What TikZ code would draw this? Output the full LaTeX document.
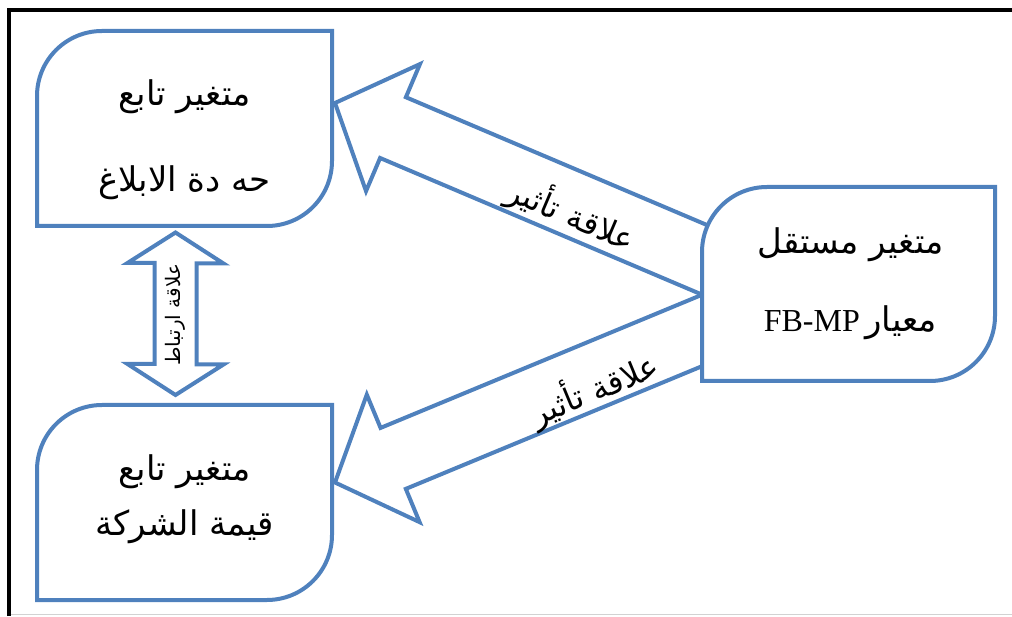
\documentclass[tikz,border=0pt]{standalone}
\usepackage{fontspec}
\setmainfont{Liberation Serif}
\newfontfamily\latinfont{Liberation Serif}
\newfontfamily\arabicfont[Script=Arabic]{DejaVu Sans}
\TeXXeTstate=1
\usetikzlibrary{positioning}

\definecolor{boxblue}{RGB}{79,129,189}

\newcommand{\artext}[1]{{\arabicfont\beginR #1\endR}}
\newcommand{\boxfont}{\arabicfont\fontsize{17}{21}\selectfont}
\newcommand{\diagbox}[1]{%
  \draw[blockline] (#1.north east) -- ([yshift=32.5pt]#1.south east)
    arc[start angle=0, end angle=-90, radius=32.5pt] -- (#1.south west)
    -- ([yshift=-32.5pt]#1.north west)
    arc[start angle=180, end angle=90, radius=32.5pt] -- cycle;}
\newcommand{\blockarrow}[3]{%
  \draw[blockline, shift={(#1)}, rotate=#2]
    (0,0) -- (63,69) -- (63,33) -- (#3,33) -- (#3,-33) -- (63,-33) -- (63,-69) -- cycle;}

\begin{document}
\begin{tikzpicture}[
    x = 0.5pt,
    y = 0.5pt,
    varbox/.style = {minimum width=147.5pt, minimum height=97.5pt, inner sep=0pt, outer sep=0pt},
    vartext/.style = {align=center, font=\boxfont, inner sep=0pt},
    ]

    \tikzstyle{blockline}=[
    draw = boxblue,
    line width = 2pt,
    fill = white,
    ]

    \useasboundingbox (0,0) rectangle (1012,616);
    \draw[line width=2pt] (8.5,0) -- (8.5,606) -- (1012,606);
    \draw[gray!35, line width=0.5pt] (11,1.5) -- (1012,1.5);

    \node[varbox] (dep1) at (184.5,487.5) {};
    \node[varbox, below=89.5pt of dep1] (dep2) {};
    \node[varbox, minimum width=146.5pt, minimum height=97pt] (indep) at (848.5,332) {};

    \coordinate (tip1) at ([xshift=1.5pt, yshift=12.75pt]dep1.east);
    \coordinate (tip2) at ([xshift=1.5pt, yshift=10pt]dep2.east);
    \coordinate (lnk1) at ([xshift=-4.5pt, yshift=-3.25pt]dep1.south);
    \coordinate (lnk2) at ([xshift=-4.5pt, yshift=5pt]dep2.north);

    \blockarrow{tip1}{-23}{420}
    \blockarrow{tip2}{22.5}{420}
    \draw[blockline] (lnk1) -- ++(48,-31) -- ++(-27,0) -- ++(0,-101) -- ++(27,0) -- (lnk2)
      -- ++(-48,31) -- ++(27,0) -- ++(0,101) -- ++(-27,0) -- cycle;

    \diagbox{dep1}
    \diagbox{dep2}
    \diagbox{indep}

    \node[vartext] (dep1text) at ([yshift=-5.75pt]dep1.center)
      {\artext{متغير تابع}\\[22pt]\artext{حه دة الابلاغ}};
    \node[vartext] (dep2text) at ([yshift=1.5pt]dep2.center)
      {\artext{متغير تابع}\\[6.5pt]\artext{قيمة الشركة}};
    \node[vartext] (indeptext) at ([xshift=1pt]indep.center)
      {\artext{متغير مستقل}\\[18pt]\artext{معيار\,\beginL{\latinfont\fontsize{16}{18}\selectfont FB-MP}\endL}};

    \node[font=\arabicfont\fontsize{16}{19}\selectfont, rotate=-23, inner sep=0pt] (effect1) at (572,402) {\artext{علاقة تأثير}};
    \node[font=\arabicfont\fontsize{16}{19}\selectfont, rotate=22.5, inner sep=0pt] (effect2) at (594,227) {\artext{علاقة تأثير}};
    \node[font=\arabicfont\fontsize{10}{12}\selectfont, rotate=90, inner sep=0pt] (link) at (175,301)
      {\artext{علاقة ارتباط}};
\end{tikzpicture}
\end{document}
